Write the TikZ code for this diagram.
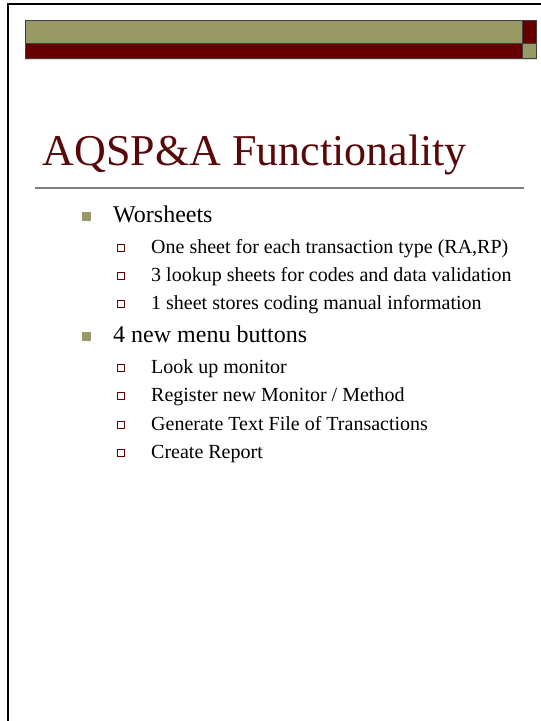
\documentclass[tikz,border=0pt]{standalone}
\usepackage{fontspec}
\setmainfont{Liberation Serif}
\usepackage{tikz}
\usetikzlibrary{positioning}
\definecolor{slideRed}{HTML}{660000}
\definecolor{slideOlive}{HTML}{999966}
\definecolor{titleRed}{HTML}{580808}

\begin{document}
\begin{tikzpicture}[x=1pt, y=-1pt,
  lvlone/.style={anchor=base west, inner sep=0pt, font=\fontsize{24}{28}\selectfont},
  lvltwo/.style={anchor=base west, inner sep=0pt, font=\fontsize{20}{24}\selectfont},
  dotone/.style={fill=slideOlive, minimum size=9pt, inner sep=0pt, anchor=south west},
  dottwo/.style={draw=slideRed, line width=1pt, minimum size=6.5pt, inner sep=0pt, anchor=south west},
  barpart/.style={draw=black!75, line width=0.8pt}]
\useasboundingbox (0,0) rectangle (541,721);
% frame of the slide
\draw[line width=2pt] (7.5,721) -- (7.5,3.5) -- (541,3.5);
% bars on top
\draw[barpart, fill=slideOlive] (25,20.5) rectangle (522.5,43.5);
\draw[barpart, fill=slideRed] (25,43.5) rectangle (522.5,58.5);
\draw[barpart, fill=slideRed] (522.5,20.5) rectangle (536.5,43.5);
\draw[barpart, fill=slideOlive] (522.5,43.5) rectangle (536.5,58.5);
\draw[black!15, line width=0.8pt] (25,59.5) -- (537,59.5);
% title
\node[anchor=base west, inner sep=0pt, font=\fontsize{44}{50}\selectfont, text=titleRed] (title) at (42.5,165) {AQSP\&A Functionality};
\draw[gray, line width=1.3pt] (35,188) -- (524,188);
% first block
\node[dotone] (bWork) at (82,221.5) {};
\node[lvlone] (work) at (113,222) {Worsheets};
\node[dottwo] (bSheet) at (117,251.5) {};
\node[lvltwo] (sheet) at (151,253) {One sheet for each transaction type (RA,RP)};
\node[dottwo] (bLook) at (117,279.5) {};
\node[lvltwo] (look) at (151,281) {3 lookup sheets for codes and data validation};
\node[dottwo] (bCode) at (117,307.5) {};
\node[lvltwo] (code) at (151,309) {1 sheet stores coding manual information};
% second block
\node[dotone] (bMenu) at (82,341.5) {};
\node[lvlone] (menu) at (113,342) {4 new menu buttons};
\node[dottwo] (bMon) at (117,371.5) {};
\node[lvltwo] (mon) at (151,373) {Look up monitor};
\node[dottwo] (bReg) at (117,399.5) {};
\node[lvltwo] (reg) at (151,401) {Register new Monitor / Method};
\node[dottwo] (bGen) at (117,428.5) {};
\node[lvltwo] (gen) at (151,430) {Generate Text File of Transactions};
\node[dottwo] (bRep) at (117,456.5) {};
\node[lvltwo] (rep) at (151,458) {Create Report};
\end{tikzpicture}
\end{document}
